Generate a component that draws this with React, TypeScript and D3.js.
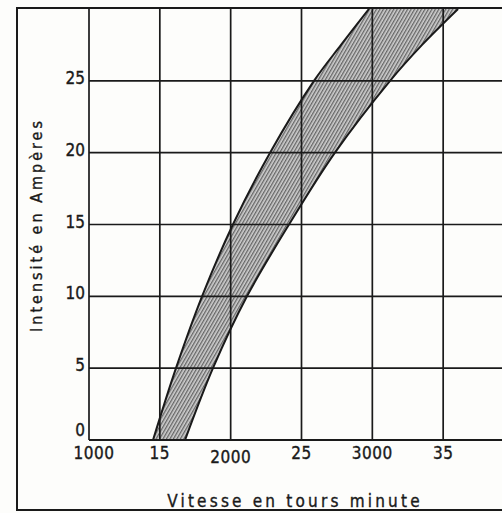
import React from "react";
import * as d3 from "d3";

// Current (A) on vertical axis
const current = [0, 5, 10, 15, 20, 25, 27.5, 30];
// Upper/left boundary of the band (rpm)
const rpmLow = [1452, 1614, 1798, 2016, 2278, 2588, 2779, 2976];
// Lower/right boundary of the band (rpm)
const rpmHigh = [1678, 1875, 2115, 2412, 2736, 3125, 3351, 3605];

const xGrid = [1000, 1500, 2000, 2500, 3000, 3500, 4000];
const xTickLabels = ["1000", "15", "2000", "25", "3000", "35"];
const yTicks = [0, 5, 10, 15, 20, 25];
const yTickLabels = ["0", "5", "10", "15", "20", "25"];

const xTitle = "Vitesse en tours minute";
const yTitle = "Intensité en Ampères";

const W = 502;
const H = 513;
const FONT = "'DejaVu Sans Condensed', 'DejaVu Sans', sans-serif";
const INK = "#1a1a1a";

type P = { c: number; lo: number; hi: number };

export default function App() {
  const x = d3.scaleLinear().domain([1000, 4000]).range([89, 514]);
  const y = d3.scaleLinear().domain([0, 30]).range([440, 9]);

  const pts: P[] = current.map((c, i) => ({ c, lo: rpmLow[i], hi: rpmHigh[i] }));

  const curve = d3.curveCatmullRom.alpha(0.5);
  const lineLo = d3.line<P>().x((d) => x(d.lo)).y((d) => y(d.c)).curve(curve);
  const lineHi = d3.line<P>().x((d) => x(d.hi)).y((d) => y(d.c)).curve(curve);

  // closed band: left curve upward, right curve back down
  const loPath = lineLo(pts) || "";
  const hiPath = lineHi(pts) || "";
  const hiPathRev = lineHi([...pts].reverse()) || "";
  const bandPath = loPath + "L" + hiPathRev.slice(1) + "Z";

  const [x0] = x.range();
  const [y0, y1] = y.range();

  const textStyle = { stroke: INK, strokeWidth: 0.35 } as React.CSSProperties;

  return (
    <svg
      width={W}
      height={H}
      style={{ position: "absolute", left: 0, top: 0, background: "#fdfdfb" }}
    >
      <defs>
        <pattern id="hatch" width="3" height="3" patternUnits="userSpaceOnUse" patternTransform="rotate(30)">
          <rect width="3" height="3" fill="#cfcfcf" />
          <line x1="0.7" y1="0" x2="0.7" y2="3" stroke="#5a5a5a" strokeWidth="1.2" />
        </pattern>
        <clipPath id="plotclip">
          <rect x={x0} y={y1} width={W - x0} height={y0 - y1} />
        </clipPath>
      </defs>

      {/* outer frame */}
      <rect x={17} y={8} width={W + 20} height={502} fill="none" stroke={INK} strokeWidth={2} />

      {/* band */}
      <g clipPath="url(#plotclip)">
        <path d={bandPath} fill="url(#hatch)" />
      </g>

      {/* grid */}
      {xGrid.map((v) => (
        <line key={"vx" + v} x1={x(v)} x2={x(v)} y1={y1} y2={y0} stroke={INK} strokeWidth={1.7} />
      ))}
      {yTicks.map((v) => (
        <line key={"hy" + v} x1={x0} x2={W} y1={y(v)} y2={y(v)} stroke={INK} strokeWidth={v === 0 ? 2.2 : 1.7} />
      ))}

      {/* curves */}
      <g clipPath="url(#plotclip)">
        <path d={loPath} fill="none" stroke={INK} strokeWidth={2} />
        <path d={hiPath} fill="none" stroke={INK} strokeWidth={2} />
      </g>

      {/* y tick labels */}
      {yTicks.map((v, i) => (
        <text
          key={"yl" + v}
          x={85}
          y={v === 0 ? y(v) - 4 : y(v) + 3}
          textAnchor="end"
          fontFamily={FONT}
          fontSize={17}
          fill={INK}
          style={textStyle}
        >
          {yTickLabels[i]}
        </text>
      ))}

      {/* x tick labels */}
      {xTickLabels.map((t, i) => (
        <text
          key={"xl" + i}
          x={x(xGrid[i]) + (i === 0 ? 5 : 0)}
          y={i === 2 ? 462.5 : 458.5}
          textAnchor="middle"
          fontFamily={FONT}
          fontSize={17}
          letterSpacing={0.5}
          fill={INK}
          style={textStyle}
        >
          {t}
        </text>
      ))}

      {/* axis titles */}
      <text
        x={295}
        y={507}
        textAnchor="middle"
        fontFamily={FONT}
        fontSize={17}
        letterSpacing={3.2}
        fill={INK}
        style={textStyle}
      >
        {xTitle}
      </text>
      <text
        transform="translate(42,225) rotate(-90)"
        textAnchor="middle"
        fontFamily={FONT}
        fontSize={16}
        letterSpacing={3}
        fill={INK}
        style={textStyle}
      >
        {yTitle}
      </text>
    </svg>
  );
}
